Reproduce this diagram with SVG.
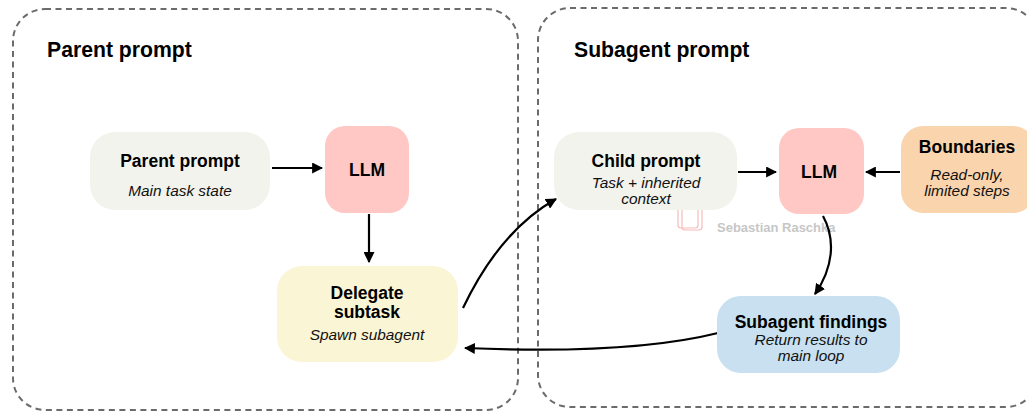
<svg xmlns="http://www.w3.org/2000/svg" width="1027" height="412" viewBox="0 0 1027 412">
<style>
.frame{fill:none;stroke:#6b6b6b;stroke-width:2;stroke-dasharray:6 4.5}
.h{font-family:"Liberation Sans",Arial,sans-serif;font-weight:bold;fill:#000}
.t{font-family:"Liberation Sans",Arial,sans-serif;font-weight:bold;font-size:17.5px;fill:#000;text-anchor:middle}
.s{font-family:"Liberation Sans",Arial,sans-serif;font-style:italic;font-size:15.4px;fill:#111;text-anchor:middle}
.c{fill:none;stroke:#000;stroke-width:2.2}
</style>
<defs>
<marker id="ah" viewBox="0 0 10 10" refX="9" refY="5" markerWidth="5" markerHeight="5" orient="auto" markerUnits="strokeWidth">
<path d="M0,0 L10,5 L0,10 z" fill="#000"/>
</marker>
</defs>
<rect width="1027" height="412" fill="#fff"/>
<g id="parent-frame">
<rect class="frame" x="13" y="9" width="505" height="401" rx="32"/>
<text class="h" x="47" y="57" font-size="21.2">Parent prompt</text>
</g>
<g id="subagent-frame">
<rect class="frame" x="538" y="8" width="500" height="399" rx="32"/>
<text class="h" x="574" y="57" font-size="21.2">Subagent prompt</text>
</g>
<g id="watermark" opacity="0.55">
<rect x="678" y="201" width="20" height="27" rx="3" fill="none" stroke="#e88" stroke-width="1.2"/>
<rect x="682" y="203" width="20" height="27" rx="3" fill="none" stroke="#e88" stroke-width="1.2"/>
<text x="717" y="232" font-family="Liberation Sans,Arial,sans-serif" font-weight="bold" font-size="13" fill="#999">Sebastian Raschka</text>
</g>
<g id="connectors">
<path class="c" d="M272,168 L322,168" marker-end="url(#ah)"/>
<path class="c" d="M369,214 L369,262" marker-end="url(#ah)"/>
<path class="c" d="M463,308 C485,262 515,222 556,199" marker-end="url(#ah)"/>
<path class="c" d="M718,333 C650,350 560,352 465,348" marker-end="url(#ah)"/>
<path class="c" d="M738,172 L776,172" marker-end="url(#ah)"/>
<path class="c" d="M900,172 L866,172" marker-end="url(#ah)"/>
<path class="c" d="M823,216 C836,240 833,268 815,294" marker-end="url(#ah)"/>
</g>
<g id="node-parent-prompt">
<rect x="90" y="132" width="180" height="78" rx="25" fill="#f3f3ee"/>
<text class="t" x="180" y="167">Parent prompt</text>
<text class="s" x="180" y="196">Main task state</text>
</g>
<g id="node-llm-parent">
<rect x="325" y="126" width="84" height="87" rx="20" fill="#ffc8c4"/>
<text class="t" x="367" y="176">LLM</text>
</g>
<g id="node-delegate">
<rect x="277" y="266" width="181" height="96" rx="25" fill="#faf5d5"/>
<text class="t" x="367" y="299">Delegate</text>
<text class="t" x="367" y="318">subtask</text>
<text class="s" x="367" y="340">Spawn subagent</text>
</g>
<g id="node-child-prompt">
<rect x="554" y="132" width="183" height="78" rx="25" fill="#f3f3ee"/>
<text class="t" x="646" y="167">Child prompt</text>
<text class="s" x="646" y="188">Task + inherited</text>
<text class="s" x="646" y="204">context</text>
</g>
<g id="node-llm-sub">
<rect x="779" y="128" width="85" height="86" rx="20" fill="#ffc8c4"/>
<text class="t" x="819" y="178">LLM</text>
</g>
<g id="node-boundaries">
<rect x="901" y="126" width="134" height="87" rx="22" fill="#f9d4ad"/>
<text class="t" x="967" y="153">Boundaries</text>
<text class="s" x="967" y="180">Read-only,</text>
<text class="s" x="967" y="196">limited steps</text>
</g>
<g id="node-findings">
<rect x="717" y="296" width="183" height="77" rx="24" fill="#c8e0ef"/>
<text class="t" x="811" y="328">Subagent findings</text>
<text class="s" x="811" y="345">Return results to</text>
<text class="s" x="811" y="361">main loop</text>
</g>
</svg>
